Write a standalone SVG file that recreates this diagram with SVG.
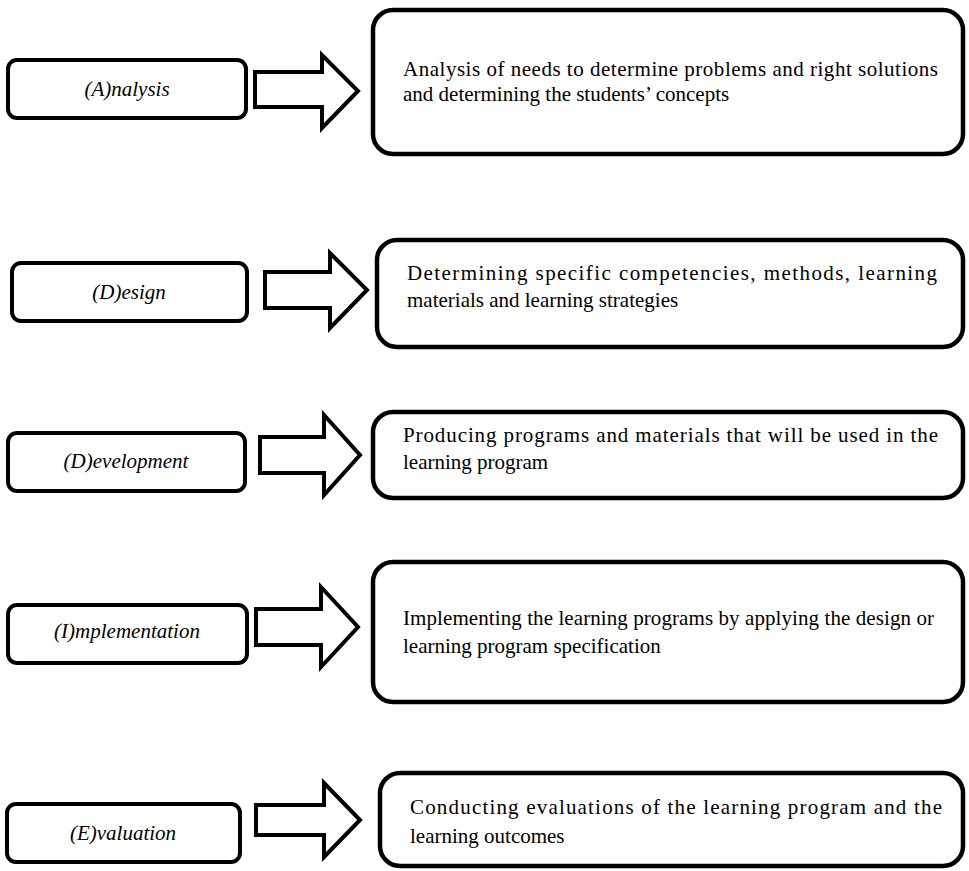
<svg xmlns="http://www.w3.org/2000/svg" width="969" height="871" viewBox="0 0 969 871">
<style>
.lb{fill:#fff;stroke:#000;stroke-width:4}
.rb{fill:#fff;stroke:#000;stroke-width:4.5}
.ar{fill:#fff;stroke:#000;stroke-width:4;stroke-linejoin:miter}
.lt{font-family:"Liberation Serif","Times New Roman",serif;font-size:21px;font-style:italic;text-anchor:middle;fill:#000}
.bt{font-family:"Liberation Serif","Times New Roman",serif;font-size:21px;fill:#000}
</style>
<rect width="969" height="871" fill="#fff"/>
<g id="connectors">
<path class="ar" d="M255,72 H322 V55 L358,91 L322,128 V107 H255 Z"/>
<path class="ar" d="M265,272 H330 V253 L367,290 L330,328 V308 H265 Z"/>
<path class="ar" d="M260,437 H324 V415 L360,455 L324,495 V473 H260 Z"/>
<path class="ar" d="M256,609 H321 V587 L358,627 L321,667 V645 H256 Z"/>
<path class="ar" d="M256,805 H324 V783 L360,820 L324,857 V835 H256 Z"/>
</g>
<g id="analysis">
<rect class="lb" x="8" y="60" width="238" height="58" rx="9"/>
<text class="lt" x="127" y="96">(A)nalysis</text>
</g>
<g id="analysis-desc">
<rect class="rb" x="373" y="10" width="590" height="144" rx="20"/>
<text class="bt" x="403" y="76" textLength="535" lengthAdjust="spacing">Analysis of needs to determine problems and right solutions</text>
<text class="bt" x="403" y="101">and determining the students’ concepts</text>
</g>
<g id="design">
<rect class="lb" x="12" y="263" width="235" height="58" rx="9"/>
<text class="lt" x="129" y="299">(D)esign</text>
</g>
<g id="design-desc">
<rect class="rb" x="377" y="240" width="586" height="107" rx="20"/>
<text class="bt" x="407" y="280" textLength="530" lengthAdjust="spacing">Determining specific competencies, methods, learning</text>
<text class="bt" x="407" y="307">materials and learning strategies</text>
</g>
<g id="development">
<rect class="lb" x="8" y="433" width="237" height="58" rx="9"/>
<text class="lt" x="126" y="468">(D)evelopment</text>
</g>
<g id="development-desc">
<rect class="rb" x="373" y="412" width="590" height="86" rx="20"/>
<text class="bt" x="403" y="442" textLength="535" lengthAdjust="spacing">Producing programs and materials that will be used in the</text>
<text class="bt" x="403" y="469">learning program</text>
</g>
<g id="implementation">
<rect class="lb" x="8" y="605" width="239" height="58" rx="9"/>
<text class="lt" x="127" y="638">(I)mplementation</text>
</g>
<g id="implementation-desc">
<rect class="rb" x="373" y="562" width="590" height="140" rx="20"/>
<text class="bt" x="403" y="625" textLength="531" lengthAdjust="spacing">Implementing the learning programs by applying the design or</text>
<text class="bt" x="403" y="653">learning program specification</text>
</g>
<g id="evaluation">
<rect class="lb" x="7" y="804" width="233" height="58" rx="9"/>
<text class="lt" x="123" y="840">(E)valuation</text>
</g>
<g id="evaluation-desc">
<rect class="rb" x="380" y="773" width="583" height="93" rx="20"/>
<text class="bt" x="410" y="814" textLength="532" lengthAdjust="spacing">Conducting evaluations of the learning program and the</text>
<text class="bt" x="410" y="843">learning outcomes</text>
</g>
</svg>
